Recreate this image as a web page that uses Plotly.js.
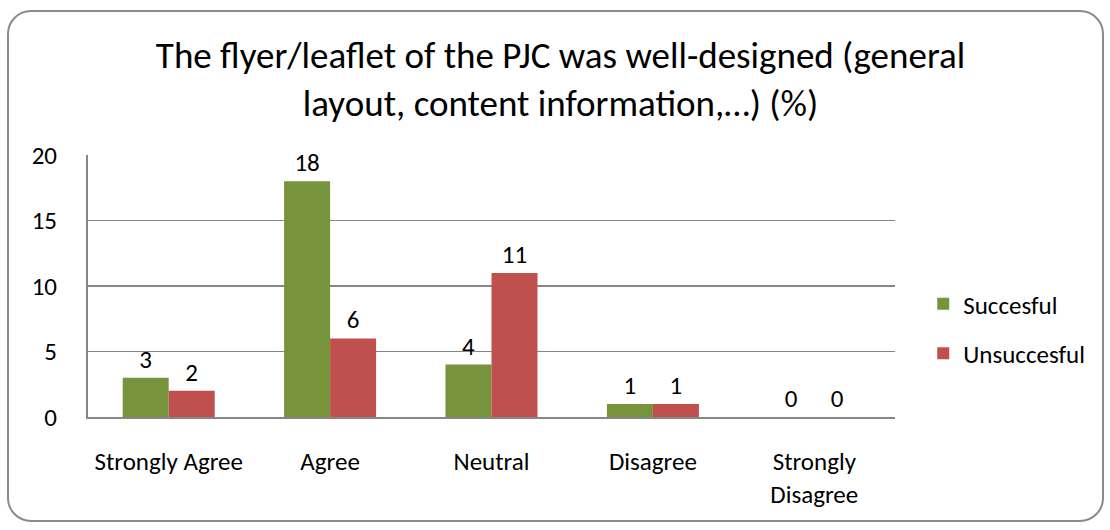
<!DOCTYPE html>
<html>
<head>
<meta charset="utf-8">
<script src="https://cdn.plot.ly/plotly-3.0.1.min.js"></script>
<style>
html,body{margin:0;padding:0;background:#fff;}
#wrap{position:relative;width:1110px;height:530px;}
#chart{position:absolute;left:0;top:0;width:1110px;height:530px;}
#frame{position:absolute;left:7px;top:10px;width:1093px;height:508px;border:2px solid #8a8a8a;border-radius:24px;pointer-events:none;}
</style>
</head>
<body>
<div id="wrap"><div id="chart"></div><div id="frame"></div></div>
<script>
const categories = ["Strongly Agree", "Agree", "Neutral", "Disagree", "Strongly<br>Disagree"];
const succesful = [3, 18, 4, 1, 0];
const unsuccesful = [2, 6, 11, 1, 0];
const yTicks = [0, 5, 10, 15, 20];

const FONT = "Carlito, Lato, 'Open Sans', sans-serif";

const traces = [
  {type:"bar", name:"Succesful", x:categories, y:succesful, marker:{color:"#77933C"},
   text:succesful.map(String), textposition:"outside", cliponaxis:false,
   textfont:{size:25, color:"#000", family:FONT}, legendgroup:"a"},
  {type:"bar", name:"Unsuccesful", x:categories, y:unsuccesful, marker:{color:"#C0504D"},
   text:unsuccesful.map(String), textposition:"outside", cliponaxis:false,
   textfont:{size:25, color:"#000", family:FONT}, legendgroup:"b"}
];

const layout = {
  width:1110, height:530,
  margin:{l:88, r:215, t:155, b:113},
  paper_bgcolor:"#fff", plot_bgcolor:"#fff",
  font:{family:FONT, size:25, color:"#000"},
  title:{text:"The flyer/leaflet of the PJC was well-designed (general<br>layout, content information,…) (%)",
         font:{size:37, family:FONT, color:"#000"}, x:0.505, xanchor:"center", y:0.872, yanchor:"top"},
  barmode:"group", bargap:0.43, bargroupgap:0,
  xaxis:{type:"category", showgrid:false, showline:true, linecolor:"#868686", linewidth:2,
         ticks:"", ticklabelstandoff:21, tickfont:{size:25, family:FONT}},
  yaxis:{range:[0,20], tickvals:yTicks, showgrid:true, gridcolor:"#868686", gridwidth:1.5,
         showline:true, linecolor:"#868686", linewidth:2, zeroline:false, ticks:"",
         ticklabelstandoff:24, tickfont:{size:25, family:FONT}, fixedrange:true},
  showlegend:true,
  legend:{x:1.035, y:0.519, xanchor:"left", yanchor:"top", tracegroupgap:14,
          font:{size:25, family:FONT}, itemwidth:30, bgcolor:"rgba(0,0,0,0)"}
};

Plotly.newPlot("chart", traces, layout, {displayModeBar:false, staticPlot:true});
</script>
</body>
</html>
